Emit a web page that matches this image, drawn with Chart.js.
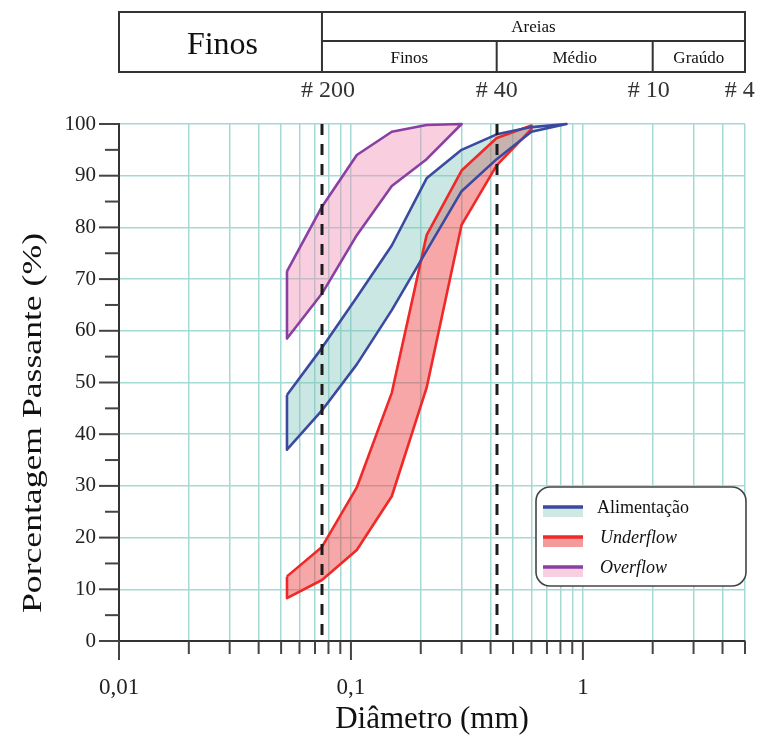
<!DOCTYPE html>
<html><head><meta charset="utf-8">
<script src="https://cdn.jsdelivr.net/npm/chart.js@4/dist/chart.umd.min.js"></script>
<style>html,body{margin:0;padding:0;background:#fff}#wrap{width:761px;height:738px}</style>
</head><body><div id="wrap"><canvas id="c" width="761" height="738"></canvas></div>
<script>
// ---------- DATA ----------
const diametros = [0.053, 0.075, 0.106, 0.15, 0.212, 0.3, 0.425, 0.6, 0.85];
const alimentacaoSup = [47.6, 56.7, 66.5, 76.5, 89.5, 95.0, 98.0, 99.4, 100];
const alimentacaoInf = [37.0, 44.6, 53.5, 64.0, 75.5, 87.0, 93.2, 98.5, 100];
const underflowSup = [12.5, 18.2, 29.7, 48.0, 78.5, 91.0, 97.3, 99.7];
const underflowInf = [8.3, 11.8, 17.6, 28.0, 49.0, 80.5, 92.0, 99.0];
const overflowSup = [71.5, 84.0, 94.0, 98.5, 99.8, 100];
const overflowInf = [58.5, 67.2, 78.5, 88.0, 93.2, 100];

const xTickValores = [0.01,0.02,0.03,0.04,0.05,0.06,0.07,0.08,0.09,
  0.1,0.2,0.3,0.4,0.5,0.6,0.7,0.8,0.9, 1,2,3,4,5];
const xMarcadores = [0.01, 0.1, 1];
const xRotulos = ['0,01', '0,1', '1'];
const yTickValores = [0,5,10,15,20,25,30,35,40,45,50,55,60,65,70,75,80,85,90,95,100];
const yRotulos = ['0','10','20','30','40','50','60','70','80','90','100'];

const peneiraValores = [0.075, 0.425, 2, 4.75];
const peneiraRotulos = ['# 200', '# 40', '# 10', '# 4'];
const linhasTracejadas = [0.075, 0.425];
const cabecalhoSub = ['Finos', 'Médio', 'Graúdo'];

const nomes = ['Alimentação', 'Underflow', 'Overflow'];
const italico = [false, true, true];

// ---------- STYLE ----------
const SERIF = '"Liberation Serif", "Times New Roman", serif';
const corLinha = ['#3b4aa0', '#f02828', '#8a3fa3'];
const corFundo = ['rgba(125,195,185,0.40)', 'rgba(238,60,60,0.45)', 'rgba(240,140,180,0.42)'];
const corLegFundo = ['#cfe8e3', '#f59a9a', '#f8cfe0'];
const TEAL = '#a5d9d3';

function banda(sup, inf) {
  const pts = [];
  sup.forEach((v, i) => pts.push({x: diametros[i], y: v}));
  for (let i = inf.length - 1; i >= 0; i--) pts.push({x: diametros[i], y: inf[i]});
  pts.push({x: pts[0].x, y: pts[0].y});
  return pts;
}
const bandas = [
  banda(alimentacaoSup, alimentacaoInf),
  banda(underflowSup, underflowInf),
  banda(overflowSup, overflowInf)
];

const datasets = bandas.map((d, i) => ({
  label: nomes[i], data: d, borderColor: corLinha[i], backgroundColor: corFundo[i],
  fill: 'shape', borderWidth: 2.6, pointRadius: 0, tension: 0, clip: false,
  borderJoinStyle: 'round'
}));

const decoracoes = {
  id: 'decoracoes',
  afterDatasetsDraw(chart) {
    const {ctx, scales: {x}, chartArea: a} = chart;
    ctx.save();
    ctx.strokeStyle = '#1c1c1c'; ctx.lineWidth = 3; ctx.setLineDash([11, 9]);
    linhasTracejadas.forEach(v => {
      const px = Math.round(x.getPixelForValue(v));
      ctx.beginPath(); ctx.moveTo(px, a.top); ctx.lineTo(px, a.bottom); ctx.stroke();
    });
    ctx.restore();
  },
  afterDraw(chart) {
    const {ctx, scales: {x, y}, chartArea: a} = chart;
    ctx.save();
    // tick marks
    ctx.strokeStyle = '#444'; ctx.lineWidth = 2;
    x.ticks.forEach(t => {
      const px = x.getPixelForValue(t.value);
      const maj = xMarcadores.includes(t.value);
      ctx.beginPath(); ctx.moveTo(px, a.bottom); ctx.lineTo(px, a.bottom + (maj ? 19 : 13)); ctx.stroke();
    });
    y.ticks.forEach(t => {
      const py = y.getPixelForValue(t.value);
      const maj = t.value % 10 === 0;
      ctx.beginPath(); ctx.moveTo(a.left, py); ctx.lineTo(a.left - (maj ? 20 : 14), py); ctx.stroke();
    });
    // header table
    const xl = a.left, xr = a.right;
    const p200 = x.getPixelForValue(peneiraValores[0]);
    const p40 = x.getPixelForValue(peneiraValores[1]);
    const p10 = x.getPixelForValue(peneiraValores[2]);
    const t0 = 12, t1 = 41, t2 = 72;
    ctx.strokeStyle = '#333'; ctx.lineWidth = 2;
    ctx.strokeRect(xl, t0, xr - xl, t2 - t0);
    ctx.beginPath();
    ctx.moveTo(p200, t0); ctx.lineTo(p200, t2);
    ctx.moveTo(p200, t1); ctx.lineTo(xr, t1);
    ctx.moveTo(p40, t1); ctx.lineTo(p40, t2);
    ctx.moveTo(p10, t1); ctx.lineTo(p10, t2);
    ctx.stroke();
    ctx.fillStyle = '#111'; ctx.textAlign = 'center'; ctx.textBaseline = 'alphabetic';
    ctx.font = '32px ' + SERIF;
    ctx.fillText('Finos', (xl + p200) / 2 + 2, 54);
    ctx.font = '17px ' + SERIF;
    ctx.fillText('Areias', (p200 + xr) / 2, 32);
    const cols = [p200, p40, p10, xr];
    cabecalhoSub.forEach((s, i) => ctx.fillText(s, (cols[i] + cols[i + 1]) / 2, 63));
    // sieve labels
    ctx.font = '24px ' + SERIF; ctx.fillStyle = '#333'; ctx.textBaseline = 'alphabetic';
    const offs = [6, 0, -4, 0];
    peneiraValores.forEach((v, i) => {
      ctx.fillText(peneiraRotulos[i], x.getPixelForValue(v) + offs[i], 97);
    });
    // y axis title (stretched like the original)
    ctx.save();
    ctx.translate(34, 423); ctx.rotate(-Math.PI / 2); ctx.scale(1.32, 1);
    ctx.font = '27px ' + SERIF; ctx.fillStyle = '#111'; ctx.textAlign = 'center'; ctx.textBaseline = 'middle';
    ctx.fillText('Porcentagem Passante (%)', 0, 0);
    ctx.restore();
    // legend
    const lx = 536, ly = 487, lw = 210, lh = 99, r = 14;
    ctx.beginPath();
    ctx.moveTo(lx + r, ly); ctx.lineTo(lx + lw - r, ly); ctx.arcTo(lx + lw, ly, lx + lw, ly + r, r);
    ctx.lineTo(lx + lw, ly + lh - r); ctx.arcTo(lx + lw, ly + lh, lx + lw - r, ly + lh, r);
    ctx.lineTo(lx + r, ly + lh); ctx.arcTo(lx, ly + lh, lx, ly + lh - r, r);
    ctx.lineTo(lx, ly + r); ctx.arcTo(lx, ly, lx + r, ly, r); ctx.closePath();
    ctx.fillStyle = '#fff'; ctx.fill();
    ctx.strokeStyle = '#444'; ctx.lineWidth = 1.6; ctx.stroke();
    chart.data.datasets.forEach((ds, i) => {
      const ry = 507 + i * 30;
      ctx.fillStyle = corLegFundo[i]; ctx.fillRect(543, ry, 40, 10);
      ctx.strokeStyle = ds.borderColor; ctx.lineWidth = 3.5;
      ctx.beginPath(); ctx.moveTo(543, ry); ctx.lineTo(583, ry); ctx.stroke();
      ctx.fillStyle = '#111'; ctx.textAlign = 'left'; ctx.textBaseline = 'alphabetic';
      ctx.font = (italico[i] ? 'italic ' : '') + '18px ' + SERIF;
      ctx.fillText(ds.label, italico[i] ? 600 : 597, ry + 6);
    });
    ctx.restore();
  }
};

new Chart(document.getElementById('c'), {
  type: 'line',
  data: {datasets},
  options: {
    responsive: false, animation: false, devicePixelRatio: 1,
    layout: {padding: {top: 124, right: 16, left: 0, bottom: 0}},
    plugins: {legend: {display: false}, tooltip: {enabled: false}, filler: {drawTime: 'beforeDatasetsDraw'}},
    scales: {
      x: {
        type: 'logarithmic', min: 0.01, max: 5,
        afterBuildTicks: s => { s.ticks = xTickValores.map(v => ({value: v})); },
        afterFit: s => { s.height = 97; s.paddingLeft = 0; s.paddingRight = 0; },
        grid: {color: TEAL, lineWidth: 1.5, drawTicks: false},
        border: {color: '#333', width: 2},
        ticks: {
          autoSkip: false, maxRotation: 0, padding: 33, color: '#222',
          font: {family: SERIF, size: 23},
          callback: v => { const i = xMarcadores.indexOf(v); return i >= 0 ? xRotulos[i] : ''; }
        },
        title: {display: true, text: 'Diâmetro (mm)', color: '#111', font: {family: SERIF, size: 31}, padding: {top: 0, bottom: 0}}
      },
      y: {
        type: 'linear', min: 0, max: 100,
        afterBuildTicks: s => { s.ticks = yTickValores.map(v => ({value: v})); },
        afterFit: s => { s.width = 119; s.paddingTop = 0; s.paddingBottom = 0; },
        grid: {color: c => (c.tick && c.tick.value % 10 === 0) ? TEAL : 'rgba(0,0,0,0)', lineWidth: 1.5, drawTicks: false},
        border: {color: '#333', width: 2},
        ticks: {
          autoSkip: false, padding: 23, color: '#222',
          font: {family: SERIF, size: 21},
          callback: v => (v % 10 === 0 ? yRotulos[v / 10] : '')
        }
      }
    }
  },
  plugins: [decoracoes]
});
</script></body></html>
